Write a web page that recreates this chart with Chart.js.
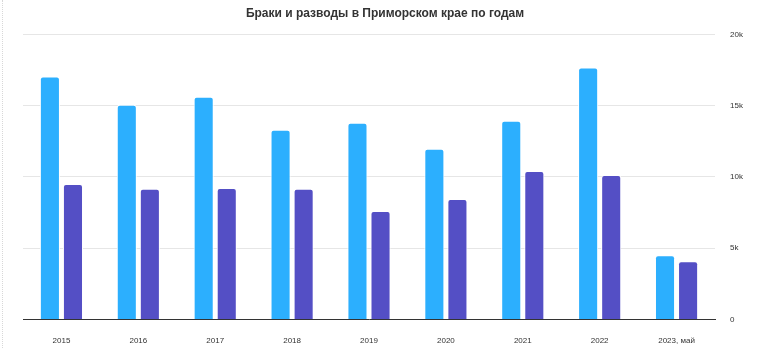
<!DOCTYPE html>
<html>
<head>
<meta charset="utf-8">
<script src="https://cdn.jsdelivr.net/npm/chart.js@4"></script>
<style>
  html, body { margin: 0; padding: 0; background: #fff; }
  #wrap { position: relative; width: 763px; height: 348px; }
  #frame { position: absolute; left: 2px; top: 0; height: 348px; border-left: 1px dotted #d8d8d8; }
</style>
</head>
<body>
<div id="wrap">
  <div id="frame"></div>
  <canvas id="chart" width="763" height="348"></canvas>
</div>
<script>
// years on the x axis
const years = ['2015', '2016', '2017', '2018', '2019', '2020', '2021', '2022', '2023, май'];

// marriages and divorces per year
const marriages = [17050, 15070, 15630, 13310, 13800, 11970, 13940, 17680, 4510];
const divorces = [9510, 9160, 9220, 9160, 7610, 8450, 10420, 10140, 4080];

const yTicks = [0, 5000, 10000, 15000, 20000];

const ctx = document.getElementById('chart');

new Chart(ctx, {
  type: 'bar',
  data: {
    labels: years,
    datasets: [
      {
        label: 'Браки',
        data: marriages,
        backgroundColor: '#2caffe',
        borderColor: '#ffffff',
        borderWidth: 1,
        borderRadius: 3,
        categoryPercentage: 0.6,
        barPercentage: 0.87
      },
      {
        label: 'Разводы',
        data: divorces,
        backgroundColor: '#544fc5',
        borderColor: '#ffffff',
        borderWidth: 1,
        borderRadius: 3,
        categoryPercentage: 0.6,
        barPercentage: 0.87
      }
    ]
  },
  options: {
    responsive: false,
    animation: false,
    layout: { padding: { left: 23, right: 16, top: 0, bottom: -15 } },
    plugins: {
      legend: { display: false },
      tooltip: { enabled: false },
      title: {
        display: true,
        text: 'Браки и разводы в Приморском крае по годам',
        color: '#333333',
        font: { family: 'Liberation Sans', size: 12, weight: 'bold' },
        padding: { top: 6, bottom: 14 }
      }
    },
    scales: {
      x: {
        grid: { display: false, drawTicks: false },
        border: { display: true, color: '#333333', width: 1 },
        ticks: {
          color: '#333333',
          font: { family: 'Liberation Sans', size: 8 },
          padding: 17,
          maxRotation: 0
        }
      },
      y: {
        position: 'right',
        min: 0,
        max: 20000,
        afterBuildTicks: (axis) => { axis.ticks = yTicks.map(v => ({ value: v })); },
        afterFit: (axis) => { axis.width = 32; },
        grid: {
          color: '#e6e6e6',
          drawTicks: false
        },
        border: { display: false },
        ticks: {
          color: '#333333',
          font: { family: 'Liberation Sans', size: 8 },
          padding: 15,
          callback: (v) => v === 0 ? '0' : (v / 1000) + 'k'
        }
      }
    }
  }
});
</script>
</body>
</html>
